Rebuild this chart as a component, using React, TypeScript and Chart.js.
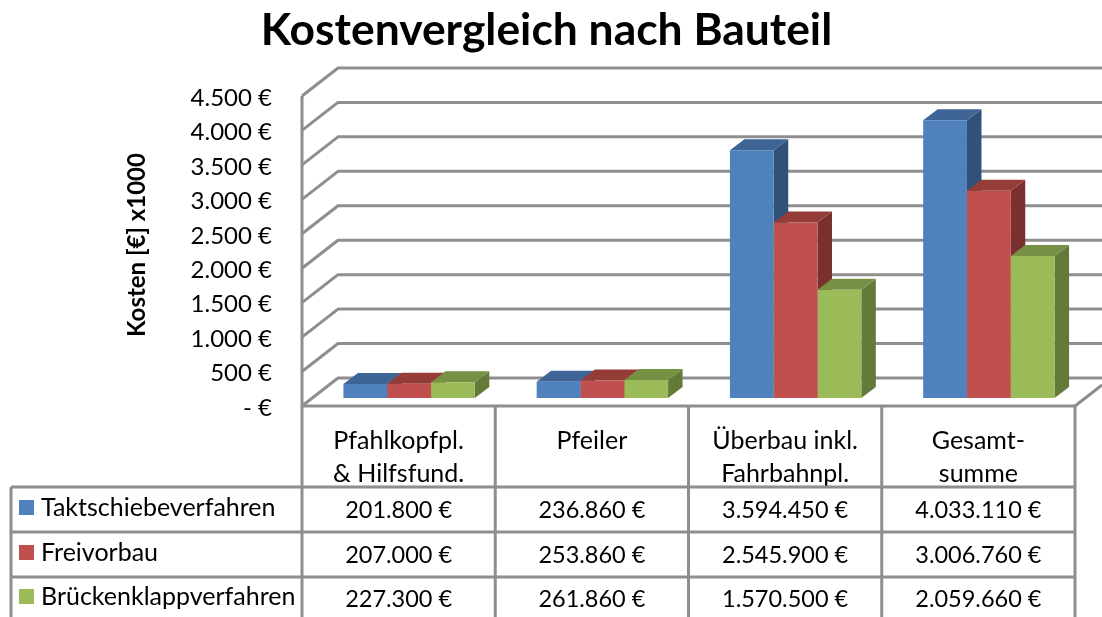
import React, { useEffect, useRef } from "react";
import { Chart, registerables } from "chart.js";

Chart.register(...registerables);

const titleText = "Kostenvergleich nach Bauteil";
const yTitleText = "Kosten [€] x1000";
const categories = [["Pfahlkopfpl.", "& Hilfsfund."], ["Pfeiler"], ["Überbau inkl.", "Fahrbahnpl."], ["Gesamt-", "summe"]];
const seriesNames = ["Taktschiebeverfahren", "Freivorbau", "Brückenklappverfahren"];
const taktschiebe = [201.8, 236.86, 3594.45, 4033.11];
const freivorbau = [207.0, 253.86, 2545.9, 3006.76];
const brueckenklapp = [227.3, 261.86, 1570.5, 2059.66];
const seriesValues = [taktschiebe, freivorbau, brueckenklapp];
const frontColors = ["#4f81bd", "#c0504d", "#9bbb59"];
const topColors = ["#3f6596", "#953c39", "#769044"];
const sideColors = ["#315278", "#7a302e", "#647a38"];

const FONT = "Lato, Carlito, 'Open Sans', sans-serif";
const LINE = "#8e8e8e";
const WALL_DX = 36;
const WALL_DY = 28;
const BAR_SHIFT_X = 10.5;
const BAR_SHIFT_Y = 8;
const DEPTH_X = 14.5;
const DEPTH_Y = 11;
const ROW_LINES = [487, 532, 577];
const ROW_TEXT = [510, 555, 599];
const SWATCH_Y = [500, 545, 589];

const fmtEuro = (v: number) => Math.round(v * 1000).toLocaleString("de-DE") + " €";

const wallPlugin = {
  id: "wall",
  beforeDatasetsDraw(chart: any) {
    const { ctx, chartArea, scales } = chart;
    const y = scales.y;
    ctx.save();
    ctx.strokeStyle = LINE;
    ctx.lineWidth = 3;
    ctx.lineJoin = "round";
    y.ticks.forEach((t: any) => {
      const py = y.getPixelForValue(t.value);
      ctx.beginPath();
      ctx.moveTo(chartArea.left, py);
      ctx.lineTo(chartArea.left + WALL_DX, py - WALL_DY);
      ctx.lineTo(chart.width, py - WALL_DY);
      ctx.stroke();
    });
    ctx.beginPath();
    ctx.moveTo(chartArea.left, chartArea.top);
    ctx.lineTo(chartArea.left, chart.height);
    ctx.moveTo(chartArea.right, chartArea.bottom);
    ctx.lineTo(chart.width, chartArea.bottom - 21);
    ctx.stroke();
    ctx.translate(BAR_SHIFT_X, -BAR_SHIFT_Y);
    seriesValues.forEach((_, i) => {
      chart.getDatasetMeta(i).data.forEach((bar: any) => {
        const x0 = bar.x - bar.width / 2;
        const x1 = bar.x + bar.width / 2;
        ctx.fillStyle = sideColors[i];
        ctx.beginPath();
        ctx.moveTo(x1, bar.y);
        ctx.lineTo(x1 + DEPTH_X, bar.y - DEPTH_Y);
        ctx.lineTo(x1 + DEPTH_X, bar.base - DEPTH_Y);
        ctx.lineTo(x1, bar.base);
        ctx.closePath();
        ctx.fill();
        ctx.fillStyle = topColors[i];
        ctx.beginPath();
        ctx.moveTo(x0, bar.y);
        ctx.lineTo(x0 + DEPTH_X, bar.y - DEPTH_Y);
        ctx.lineTo(x1 + DEPTH_X, bar.y - DEPTH_Y);
        ctx.lineTo(x1, bar.y);
        ctx.closePath();
        ctx.fill();
      });
    });
    ctx.restore();
  },
  beforeDatasetDraw(chart: any) {
    chart.ctx.save();
    chart.ctx.translate(BAR_SHIFT_X, -BAR_SHIFT_Y);
  },
  afterDatasetDraw(chart: any) {
    chart.ctx.restore();
  },
  afterDraw(chart: any) {
    const { ctx, chartArea, scales } = chart;
    const x = scales.x;
    const tableLeft = 11;
    ctx.save();
    ctx.strokeStyle = LINE;
    ctx.lineWidth = 3;
    ctx.beginPath();
    ctx.moveTo(chartArea.left, chartArea.bottom);
    ctx.lineTo(chartArea.right, chartArea.bottom);
    ROW_LINES.forEach((ry) => {
      ctx.moveTo(tableLeft, ry);
      ctx.lineTo(chartArea.right, ry);
    });
    ctx.moveTo(tableLeft, ROW_LINES[0]);
    ctx.lineTo(tableLeft, chart.height);
    categories.forEach((_, c) => {
      const edge = x.getPixelForValue(c) + (x.getPixelForValue(1) - x.getPixelForValue(0)) / 2;
      ctx.moveTo(edge, chartArea.bottom);
      ctx.lineTo(edge, chart.height);
    });
    ctx.stroke();

    ctx.fillStyle = "#000";
    ctx.textBaseline = "middle";
    seriesNames.forEach((name, s) => {
      ctx.fillStyle = frontColors[s];
      ctx.fillRect(19, SWATCH_Y[s], 15, 15);
      ctx.fillStyle = "#000";
      ctx.textAlign = "left";
      ctx.font = `25px ${FONT}`;
      ctx.fillText(name, 41, ROW_TEXT[s] - 2);
      ctx.textAlign = "center";
      ctx.font = `23.5px ${FONT}`;
      seriesValues[s].forEach((v, c) => {
        ctx.fillText(fmtEuro(v), x.getPixelForValue(c), ROW_TEXT[s]);
      });
    });

    ctx.translate(137, 245);
    ctx.rotate(-Math.PI / 2);
    ctx.textAlign = "center";
    ctx.font = `bold 24px ${FONT}`;
    ctx.fillText(yTitleText, 0, 0);
    ctx.restore();
  },
};

export default function App() {
  const ref = useRef<HTMLCanvasElement>(null);
  useEffect(() => {
    const chart = new Chart(ref.current as HTMLCanvasElement, {
      type: "bar",
      plugins: [wallPlugin],
      data: {
        labels: categories,
        datasets: seriesNames.map((name, i) => ({
          label: name,
          data: seriesValues[i],
          backgroundColor: frontColors[i],
          clip: false,
          categoryPercentage: 0.68,
          barPercentage: 1,
        })),
      },
      options: {
        responsive: false,
        animation: false,
        layout: { padding: { left: 18, right: 27, top: 0, bottom: 0 } },
        plugins: {
          legend: { display: false },
          tooltip: { enabled: false },
          title: {
            display: true,
            text: titleText,
            color: "#000",
            font: { family: FONT, size: 44.4, weight: "bold", lineHeight: 1.2 },
            padding: { top: 4, bottom: 38.7 },
          },
        },
        scales: {
          x: {
            grid: { display: false, drawTicks: false },
            border: { display: false },
            afterFit: (s: any) => { s.height = 211; },
            ticks: {
              autoSkip: false,
              maxRotation: 0,
              minRotation: 0,
              color: "#000",
              padding: 18,
              font: { family: FONT, size: 25, lineHeight: 1.32 },
            },
          },
          y: {
            min: 0,
            max: 4500,
            grid: { display: false, drawTicks: false },
            border: { display: false },
            afterFit: (s: any) => { s.width = 284; },
            ticks: {
              stepSize: 500,
              color: "#000",
              padding: 30,
              labelOffset: 2,
              font: { family: FONT, size: 24 },
              callback: (v: any) => (v === 0 ? "- €" : Number(v).toLocaleString("de-DE") + " €"),
            },
          },
        },
      },
    } as any);
    return () => chart.destroy();
  }, []);
  return (
    <div style={{ position: "fixed", left: 0, top: 0, width: 1102, height: 617, background: "#fff" }}>
      <canvas ref={ref} width={1102} height={617} style={{ display: "block" }} />
    </div>
  );
}
